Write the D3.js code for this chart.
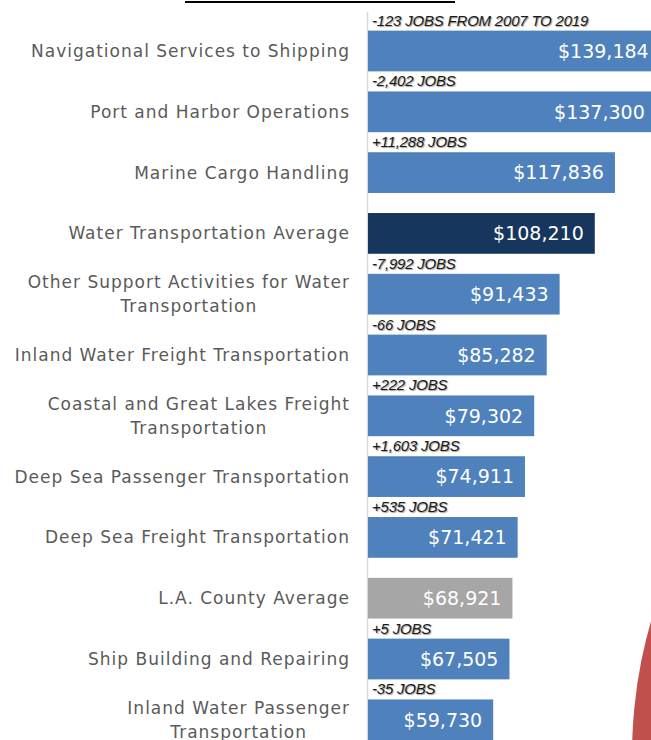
<!DOCTYPE html>
<html>
<head>
<meta charset="utf-8">
<script src="https://cdn.jsdelivr.net/npm/d3@7"></script>
<style>
    html, body { margin: 0; padding: 0; background: #fff; overflow: hidden; }
    .cat { font-family: "DejaVu Sans", sans-serif; font-size: 17px; fill: #5a5a5a; letter-spacing: 1px; }
    .val { font-family: "DejaVu Sans", sans-serif; font-size: 19px; fill: #fff; }
    .jobs { font-family: "Liberation Sans", sans-serif; font-style: italic; font-size: 15px; fill: #1a1a1a;
            text-shadow: 1px 1px 1px #a0a0a0; letter-spacing: -0.2px; }
</style>
</head>
<body>
<div id="chart"></div>
<script>
// average annual wage per industry, L.A. County
const categories = [
    "Navigational Services to Shipping",
    "Port and Harbor Operations",
    "Marine Cargo Handling",
    "Water Transportation Average",
    "Other Support Activities for Water|Transportation",
    "Inland Water Freight Transportation",
    "Coastal and Great Lakes Freight|Transportation",
    "Deep Sea Passenger Transportation",
    "Deep Sea Freight Transportation",
    "L.A. County Average",
    "Ship Building and Repairing",
    "Inland Water Passenger|Transportation"
];
const wages = [139184, 137300, 117836, 108210, 91433, 85282, 79302, 74911, 71421, 68921, 67505, 59730];
const jobChanges = [
    "-123 JOBS FROM 2007 TO 2019", "-2,402 JOBS", "+11,288 JOBS", "",
    "-7,992 JOBS", "-66 JOBS", "+222 JOBS", "+1,603 JOBS",
    "+535 JOBS", "", "+5 JOBS", "-35 JOBS"
];
const barKinds = ["ind", "ind", "ind", "water", "ind", "ind", "ind", "ind", "ind", "county", "ind", "ind"];

const width = 651, height = 740;
const colors = { ind: "#4f81bd", water: "#17365d", county: "#a6a6a6" };

const data = categories.map((c, i) => ({
    cat: c, wage: wages[i], jobs: jobChanges[i], kind: barKinds[i]
}));

const svg = d3.select("#chart").append("svg")
    .attr("width", width).attr("height", height);

const x = d3.scaleLinear().domain([0, 140000]).range([368, 661.4]);
const y = d3.scaleBand().domain(categories).range([20.6, 750.2])
    .paddingInner(0.33).paddingOuter(0.165);

// red decoration circle (bottom right)
svg.append("circle").attr("cx", 1112).attr("cy", 755).attr("r", 480).attr("fill", "#c0504d");

// title underline (title itself is cropped off)
svg.append("line").attr("x1", 185).attr("x2", 455).attr("y1", 2).attr("y2", 2)
    .attr("stroke", "#000").attr("stroke-width", 2);

// axis line
svg.append("line").attr("x1", 367.5).attr("x2", 367.5).attr("y1", 12).attr("y2", height)
    .attr("stroke", "#d9d9d9").attr("stroke-width", 1.5);

const rows = svg.append("g").selectAll("g").data(data).enter().append("g");

rows.append("rect")
    .attr("x", x(0))
    .attr("y", d => y(d.cat))
    .attr("width", d => x(d.wage) - x(0))
    .attr("height", y.bandwidth())
    .attr("fill", d => colors[d.kind]);

rows.append("text").attr("class", "val")
    .attr("x", d => x(d.wage) - 11)
    .attr("y", d => y(d.cat) + y.bandwidth() / 2)
    .attr("dy", "0.36em")
    .attr("text-anchor", "end")
    .text(d => "$" + d3.format(",")(d.wage));

rows.filter(d => d.jobs !== "").append("text").attr("class", "jobs")
    .attr("x", x(0) + 4)
    .attr("y", d => y(d.cat) - 5)
    .text(d => d.jobs);

// category labels, right edge at 350; wrapped ones are centred as a block
rows.each(function (d) {
    const lines = d.cat.split("|");
    const cy = y(d.cat) + y.bandwidth() / 2;
    const t = d3.select(this).append("text").attr("class", "cat");
    if (lines.length === 1) {
        t.attr("x", 350).attr("y", cy).attr("dy", "0.35em").attr("text-anchor", "end").text(lines[0]);
        return;
    }
    const spans = lines.map((l, i) => t.append("tspan").attr("y", cy + (i - (lines.length - 1) / 2) * 24)
        .attr("dy", "0.35em").text(l));
    const maxW = d3.max(spans, s => s.node().getComputedTextLength());
    spans.forEach(s => s.attr("x", 350 - maxW / 2));
    t.attr("text-anchor", "middle");
});
</script>
</body>
</html>
